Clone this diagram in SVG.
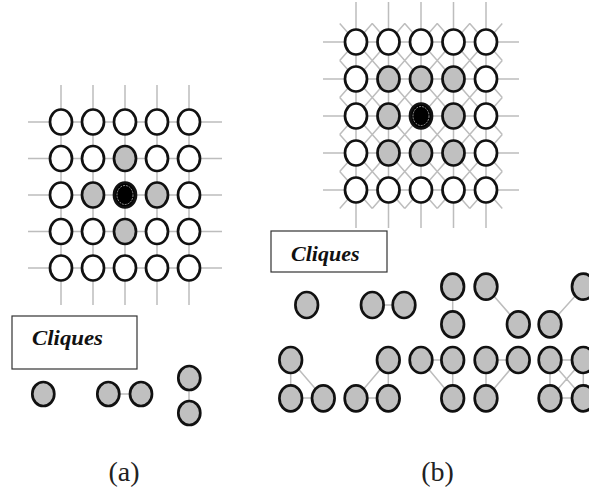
<svg xmlns="http://www.w3.org/2000/svg" width="589" height="493" viewBox="0 0 589 493">
<style>
.g{stroke:#bdbdbd;stroke-width:1.5;fill:none}
.e{stroke:#bdbdbd;stroke-width:1.5;fill:none}
.w{fill:#fff;stroke:#111;stroke-width:2.7}
.s{fill:#c0c0c0;stroke:#111;stroke-width:2.7}
.b{fill:#000;stroke:#111;stroke-width:2.7}
.r{fill:none;stroke:#fff;stroke-width:0.7;stroke-dasharray:2 1;opacity:0.8}
.box{fill:#fff;stroke:#333;stroke-width:1.2}
.cl{font-family:"Liberation Serif",serif;font-weight:bold;font-style:italic;font-size:20px;fill:#111}
.lb{font-family:"Liberation Serif",serif;font-size:28px;fill:#222}
</style>
<rect width="589" height="493" fill="#fff"/>
<g id="connectors">
<path class="g" d="M28 122H222M28 158.5H222M28 195H222M28 231.5H222M28 268H222M61 85V305M93 85V305M125 85V305M157 85V305M189 85V305"/>
<path class="g" d="M323 42H519M323 79H519M323 116H519M323 153H519M323 190H519M356 2V228M388.5 2V228M421 2V228M453.5 2V228M486 2V228"/>
<path class="g" d="M339.75 23.5L502.25 208.5M372.25 23.5L502.25 171.5M404.75 23.5L502.25 134.5M437.25 23.5L502.25 97.5M469.75 23.5L502.25 60.5M339.75 60.5L469.75 208.5M339.75 97.5L437.25 208.5M339.75 134.5L404.75 208.5M339.75 171.5L372.25 208.5M339.75 60.5L372.25 23.5M339.75 97.5L404.75 23.5M339.75 134.5L437.25 23.5M339.75 171.5L469.75 23.5M339.75 208.5L502.25 23.5M372.25 208.5L502.25 60.5M404.75 208.5L502.25 97.5M437.25 208.5L502.25 134.5M469.75 208.5L502.25 171.5"/>
<path class="e" d="M108 394H141M189 378V413"/>
<path class="e" d="M372 305H404M452.7 287V324M486 287L518.3 324M550 324L583.3 287"/>
<path class="e" d="M290.7 360V398M290.7 360L323.3 398M290.7 398H323.3M356 398L388.3 360M388.3 360V398M356 398H388.3M421 360H452.7M452.7 360V398M421 360L452.7 398M486 360H518.3M486 360V398M518.3 360L486 398M550 360H583.3M550 398H583.3M550 360V398M583.3 360V398M550 360L583.3 398M583.3 360L550 398"/>
</g>
<g id="grid-a">
<g id="a11"><ellipse class="w" cx="61" cy="122" rx="11" ry="12.5"/></g>
<g id="a12"><ellipse class="w" cx="93" cy="122" rx="11" ry="12.5"/></g>
<g id="a13"><ellipse class="w" cx="125" cy="122" rx="11" ry="12.5"/></g>
<g id="a14"><ellipse class="w" cx="157" cy="122" rx="11" ry="12.5"/></g>
<g id="a15"><ellipse class="w" cx="189" cy="122" rx="11" ry="12.5"/></g>
<g id="a21"><ellipse class="w" cx="61" cy="158.5" rx="11" ry="12.5"/></g>
<g id="a22"><ellipse class="w" cx="93" cy="158.5" rx="11" ry="12.5"/></g>
<g id="a23"><ellipse class="s" cx="125" cy="158.5" rx="11" ry="12.5"/></g>
<g id="a24"><ellipse class="w" cx="157" cy="158.5" rx="11" ry="12.5"/></g>
<g id="a25"><ellipse class="w" cx="189" cy="158.5" rx="11" ry="12.5"/></g>
<g id="a31"><ellipse class="w" cx="61" cy="195" rx="11" ry="12.5"/></g>
<g id="a32"><ellipse class="s" cx="93" cy="195" rx="11" ry="12.5"/></g>
<g id="a33"><ellipse class="b" cx="125" cy="195" rx="11" ry="12.5"/><ellipse class="r" cx="125" cy="195" rx="8" ry="9.5"/></g>
<g id="a34"><ellipse class="s" cx="157" cy="195" rx="11" ry="12.5"/></g>
<g id="a35"><ellipse class="w" cx="189" cy="195" rx="11" ry="12.5"/></g>
<g id="a41"><ellipse class="w" cx="61" cy="231.5" rx="11" ry="12.5"/></g>
<g id="a42"><ellipse class="w" cx="93" cy="231.5" rx="11" ry="12.5"/></g>
<g id="a43"><ellipse class="s" cx="125" cy="231.5" rx="11" ry="12.5"/></g>
<g id="a44"><ellipse class="w" cx="157" cy="231.5" rx="11" ry="12.5"/></g>
<g id="a45"><ellipse class="w" cx="189" cy="231.5" rx="11" ry="12.5"/></g>
<g id="a51"><ellipse class="w" cx="61" cy="268" rx="11" ry="12.5"/></g>
<g id="a52"><ellipse class="w" cx="93" cy="268" rx="11" ry="12.5"/></g>
<g id="a53"><ellipse class="w" cx="125" cy="268" rx="11" ry="12.5"/></g>
<g id="a54"><ellipse class="w" cx="157" cy="268" rx="11" ry="12.5"/></g>
<g id="a55"><ellipse class="w" cx="189" cy="268" rx="11" ry="12.5"/></g>
</g>
<g id="grid-b">
<g id="b11"><ellipse class="w" cx="356" cy="42" rx="11" ry="12.5"/></g>
<g id="b12"><ellipse class="w" cx="388.5" cy="42" rx="11" ry="12.5"/></g>
<g id="b13"><ellipse class="w" cx="421" cy="42" rx="11" ry="12.5"/></g>
<g id="b14"><ellipse class="w" cx="453.5" cy="42" rx="11" ry="12.5"/></g>
<g id="b15"><ellipse class="w" cx="486" cy="42" rx="11" ry="12.5"/></g>
<g id="b21"><ellipse class="w" cx="356" cy="79" rx="11" ry="12.5"/></g>
<g id="b22"><ellipse class="s" cx="388.5" cy="79" rx="11" ry="12.5"/></g>
<g id="b23"><ellipse class="s" cx="421" cy="79" rx="11" ry="12.5"/></g>
<g id="b24"><ellipse class="s" cx="453.5" cy="79" rx="11" ry="12.5"/></g>
<g id="b25"><ellipse class="w" cx="486" cy="79" rx="11" ry="12.5"/></g>
<g id="b31"><ellipse class="w" cx="356" cy="116" rx="11" ry="12.5"/></g>
<g id="b32"><ellipse class="s" cx="388.5" cy="116" rx="11" ry="12.5"/></g>
<g id="b33"><ellipse class="b" cx="421" cy="116" rx="11" ry="12.5"/><ellipse class="r" cx="421" cy="116" rx="8" ry="9.5"/></g>
<g id="b34"><ellipse class="s" cx="453.5" cy="116" rx="11" ry="12.5"/></g>
<g id="b35"><ellipse class="w" cx="486" cy="116" rx="11" ry="12.5"/></g>
<g id="b41"><ellipse class="w" cx="356" cy="153" rx="11" ry="12.5"/></g>
<g id="b42"><ellipse class="s" cx="388.5" cy="153" rx="11" ry="12.5"/></g>
<g id="b43"><ellipse class="s" cx="421" cy="153" rx="11" ry="12.5"/></g>
<g id="b44"><ellipse class="s" cx="453.5" cy="153" rx="11" ry="12.5"/></g>
<g id="b45"><ellipse class="w" cx="486" cy="153" rx="11" ry="12.5"/></g>
<g id="b51"><ellipse class="w" cx="356" cy="190" rx="11" ry="12.5"/></g>
<g id="b52"><ellipse class="w" cx="388.5" cy="190" rx="11" ry="12.5"/></g>
<g id="b53"><ellipse class="w" cx="421" cy="190" rx="11" ry="12.5"/></g>
<g id="b54"><ellipse class="w" cx="453.5" cy="190" rx="11" ry="12.5"/></g>
<g id="b55"><ellipse class="w" cx="486" cy="190" rx="11" ry="12.5"/></g>
</g>
<g id="cliques-a">
<g id="label-a"><rect class="box" x="12" y="316" width="125" height="53"/><text class="cl" x="32" y="345" textLength="71" lengthAdjust="spacingAndGlyphs">Cliques</text></g>
<g id="ca1"><ellipse class="s" cx="43.3" cy="394" rx="11" ry="12"/></g>
<g id="ca2"><ellipse class="s" cx="108.3" cy="394" rx="11" ry="12"/></g>
<g id="ca3"><ellipse class="s" cx="141" cy="394" rx="11" ry="12"/></g>
<g id="ca4"><ellipse class="s" cx="189.3" cy="378" rx="11" ry="12"/></g>
<g id="ca5"><ellipse class="s" cx="189.3" cy="413" rx="11" ry="12"/></g>
</g>
<g id="cliques-b">
<g id="label-b"><rect class="box" x="271" y="231" width="116" height="41"/><text class="cl" x="291" y="260.5" textLength="68.5" lengthAdjust="spacingAndGlyphs">Cliques</text></g>
<g id="cb1"><ellipse class="s" cx="306.7" cy="305" rx="11.3" ry="13"/></g>
<g id="cb2"><ellipse class="s" cx="372.3" cy="305" rx="11.3" ry="13"/></g>
<g id="cb3"><ellipse class="s" cx="404" cy="305" rx="11.3" ry="13"/></g>
<g id="cb4"><ellipse class="s" cx="452.7" cy="286.7" rx="11.3" ry="13"/></g>
<g id="cb5"><ellipse class="s" cx="452.7" cy="324.3" rx="11.3" ry="13"/></g>
<g id="cb6"><ellipse class="s" cx="486" cy="286.7" rx="11.3" ry="13"/></g>
<g id="cb7"><ellipse class="s" cx="518.3" cy="324.3" rx="11.3" ry="13"/></g>
<g id="cb8"><ellipse class="s" cx="550" cy="324.3" rx="11.3" ry="13"/></g>
<g id="cb9"><ellipse class="s" cx="583.3" cy="286.7" rx="11.3" ry="13"/></g>
<g id="cb10"><ellipse class="s" cx="290.7" cy="360" rx="11.3" ry="13"/></g>
<g id="cb11"><ellipse class="s" cx="290.7" cy="398.3" rx="11.3" ry="13"/></g>
<g id="cb12"><ellipse class="s" cx="323.3" cy="398.3" rx="11.3" ry="13"/></g>
<g id="cb13"><ellipse class="s" cx="356" cy="398.3" rx="11.3" ry="13"/></g>
<g id="cb14"><ellipse class="s" cx="388.3" cy="360" rx="11.3" ry="13"/></g>
<g id="cb15"><ellipse class="s" cx="388.3" cy="398.3" rx="11.3" ry="13"/></g>
<g id="cb16"><ellipse class="s" cx="421" cy="360" rx="11.3" ry="13"/></g>
<g id="cb17"><ellipse class="s" cx="452.7" cy="360" rx="11.3" ry="13"/></g>
<g id="cb18"><ellipse class="s" cx="452.7" cy="398.3" rx="11.3" ry="13"/></g>
<g id="cb19"><ellipse class="s" cx="486" cy="360" rx="11.3" ry="13"/></g>
<g id="cb20"><ellipse class="s" cx="518.3" cy="360" rx="11.3" ry="13"/></g>
<g id="cb21"><ellipse class="s" cx="486" cy="398.3" rx="11.3" ry="13"/></g>
<g id="cb22"><ellipse class="s" cx="550" cy="360" rx="11.3" ry="13"/></g>
<g id="cb23"><ellipse class="s" cx="583.3" cy="360" rx="11.3" ry="13"/></g>
<g id="cb24"><ellipse class="s" cx="550" cy="398.3" rx="11.3" ry="13"/></g>
<g id="cb25"><ellipse class="s" cx="583.3" cy="398.3" rx="11.3" ry="13"/></g>
</g>
<g id="captions">
<text class="lb" x="124" y="481" text-anchor="middle">(a)</text>
<text class="lb" x="437.5" y="481" text-anchor="middle">(b)</text>
</g>
</svg>
